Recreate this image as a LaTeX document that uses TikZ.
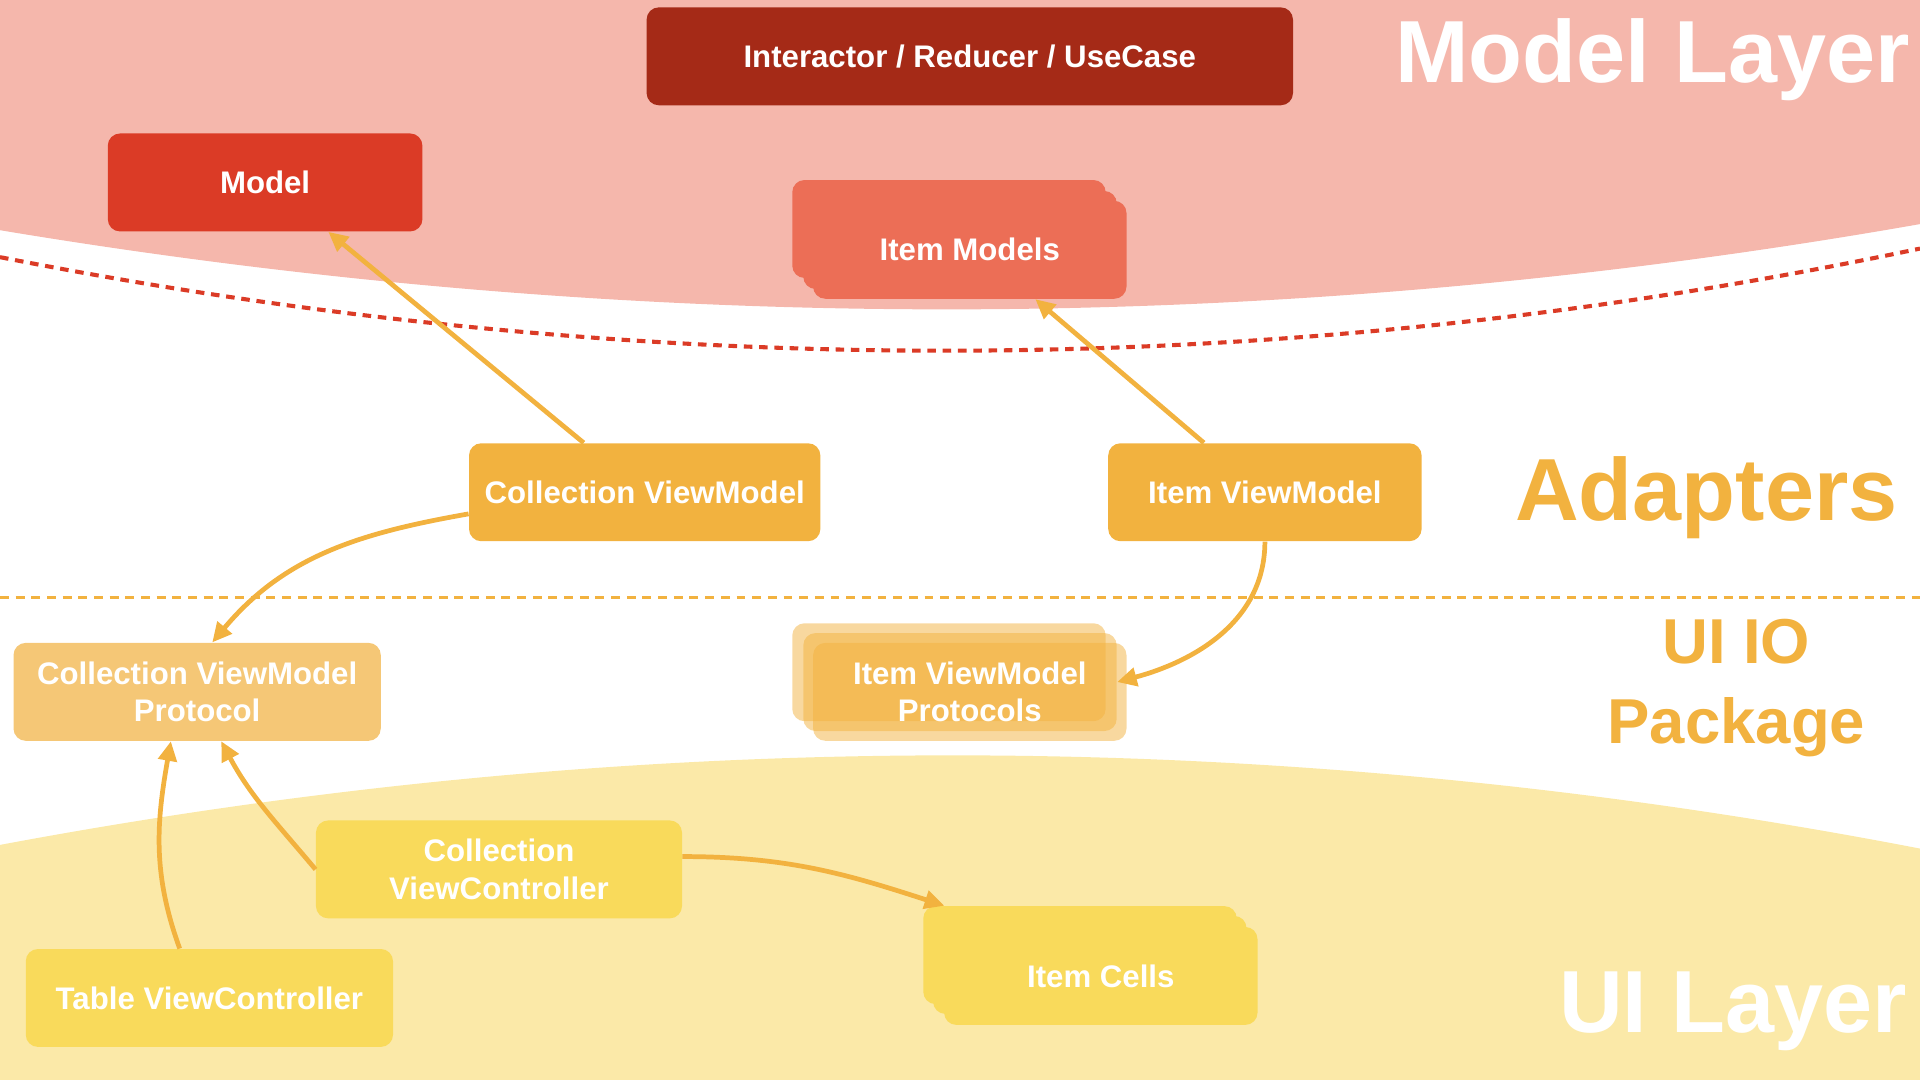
\documentclass[tikz,border=0pt]{standalone}
\usepackage{fontspec}
\setmainfont{Liberation Sans}
\usetikzlibrary{arrows.meta}
\definecolor{pinkbg}{HTML}{F5B7AC}
\definecolor{ucred}{HTML}{A52A17}
\definecolor{modelred}{HTML}{DB3B26}
\definecolor{itemred}{HTML}{EC6E56}
\definecolor{vmorange}{HTML}{F2B23F}
\definecolor{protoorange}{HTML}{F5C776}
\definecolor{yellowbg}{HTML}{FBE9A8}
\definecolor{uiyellow}{HTML}{F9DA5B}
\begin{document}
\begin{tikzpicture}[x=0.02cm,y=-0.02cm,
  box/.style={rounded corners=0.2cm,minimum width=#1,minimum height=1.6cm,text=white,align=center,inner sep=0pt,font=\bfseries\fontsize{14.5}{17.6}\selectfont},
  box/.default=5.12cm,
  dep/.style={draw=vmorange,line width=2.2pt,-{Triangle[length=0.32cm,width=0.3cm]}},
  layer/.style={font=\bfseries\fontsize{41}{41}\selectfont,inner sep=0pt}]
\useasboundingbox (0,0) rectangle (1568,882);
% layers
\fill[pinkbg] (0,0) -- (1568,0) -- (1568,183) .. controls (1045,275) and (523,275) .. (0,188) -- cycle;
\fill[yellowbg] (0,690) .. controls (523,592) and (1045,592) .. (1568,693) -- (1568,882) -- (0,882) -- cycle;
\draw[modelred,line width=1.9pt,dash pattern=on 0.14cm off 0.11cm] (0,210) .. controls (523,313) and (1045,313) .. (1568,203);
\draw[vmorange,line width=1.6pt,dash pattern=on 0.146cm off 0.11cm] (0,488) -- (1568,488);
% model layer
\node[box=10.56cm,fill=ucred] (uc) at (792,46) {Interactor / Reducer / UseCase};
\node[box=5.14cm,fill=modelred] (model) at (216.5,149) {Model};
\node[box,fill=itemred] (im3) at (775,187) {};
\node[box,fill=itemred] (im2) at (784,196) {};
\node[box,fill=itemred] (im) at (792,204) {Item Models};
% adapters
\node[box=5.74cm,fill=vmorange] (cvm) at (526.5,402) {Collection ViewModel};
\node[box,fill=vmorange] (ivm) at (1033,402) {Item ViewModel};
% ui io
\node[box=6cm,fill=protoorange] (cvmp) at (161,565) {Collection ViewModel\\Protocol};
\node[box,fill=vmorange,fill opacity=0.5] (ivmp3) at (775,549) {};
\node[box,fill=vmorange,fill opacity=0.5] (ivmp2) at (784,557) {};
\node[box,fill=vmorange,fill opacity=0.5,text opacity=1] (ivmp) at (792,565) {Item ViewModel\\Protocols};
% ui layer
\node[box=5.98cm,fill=uiyellow] (cvc) at (407.5,710) {Collection\\ViewController};
\node[box=6cm,fill=uiyellow] (tvc) at (171,815) {Table ViewController};
\node[box,fill=uiyellow] (cells3) at (882,780) {};
\node[box,fill=uiyellow] (cells2) at (890,788) {};
\node[box,fill=uiyellow] (cells) at (899,797) {Item Cells};
% layer names
\node[layer,text=white,anchor=base east] (ml) at (1560,67) {Model Layer};
\node[layer,text=vmorange,anchor=base east] (ad) at (1550,425) {Adapters};
\node[text=vmorange,inner sep=0pt,align=center,font=\bfseries\fontsize{29.5}{37}\selectfont] (io) at (1418,562) {UI IO\\Package};
\node[layer,text=white,anchor=base east] (ul) at (1558,843) {UI Layer};
% dependencies
\draw[dep] (cvm.141) -- (model.-38);
\draw[dep] (ivm.141) -- (im.-37);
\draw[dep] (cvm.187) to[out=190,in=50] (cvmp.73);
\draw[dep] (ivm.south) to[out=-90,in=15] (ivmp2.east);
\draw[dep] (cvc.west) to[out=130,in=-62] (cvmp.-64);
\draw[dep] (tvc.121) to[out=110,in=-100] (cvmp.-118);
\draw[dep] (cvc.4) to[out=0,in=162] (cells3.160);
\end{tikzpicture}
\end{document}
